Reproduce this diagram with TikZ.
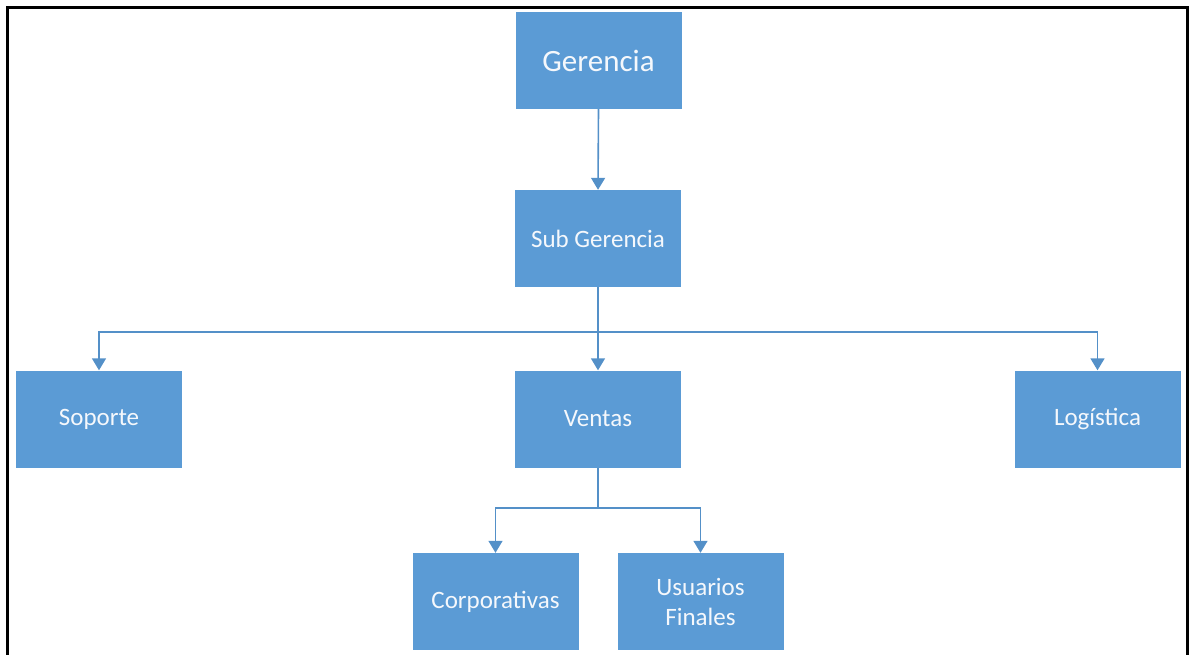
\documentclass[tikz,border=0pt]{standalone}
\usepackage{fontspec}
\setmainfont{Carlito}
\usetikzlibrary{arrows.meta}
\definecolor{boxblue}{RGB}{91,155,213}
\definecolor{lineblue}{RGB}{84,144,200}
\definecolor{txtwhite}{RGB}{245,248,252}
\tikzset{
  orgbox/.style={fill=boxblue, draw=none, minimum width=166pt, minimum height=97pt, inner sep=0pt, text=txtwhite, align=center, font=\fontsize{25}{30}\selectfont},
  link/.style={draw=lineblue, line width=1.6pt, -{Triangle[width=14pt,length=12pt]}},
  plain/.style={draw=lineblue, line width=1.6pt}
}
\begin{document}
\begin{tikzpicture}[x=1pt,y=-1pt]
\useasboundingbox (0,0) rectangle (1190,655);
\draw[line width=3pt, black] (7.5,660) -- (7.5,7.5) -- (1187,7.5) -- (1187,660);
\node[orgbox, font=\fontsize{31}{36}\selectfont] (ger) at (598.5,60.5) {Gerencia};
\node[orgbox] (sub) at (598,238.5) {Sub Gerencia};
\node[orgbox] (sop) at (99,419) {Soporte};
\node[orgbox] (ven) at (598,419) {Ventas};
\node[orgbox] (log) at (1097.5,419) {Logística};
\node[orgbox] (cor) at (495.5,601.5) {Corporativas};
\node[orgbox] (usu) at (700.5,601.5) {Usuarios\\Finales};
\coordinate (j1) at (598,332);
\coordinate (j2) at (598,508);
\draw[link] (ger.south) -- (sub.north);
\draw[plain] (sub.south) -- (j1);
\draw[link] (j1) -| (sop.north);
\draw[link] (j1) -| (log.north);
\draw[link] (j1) -- (ven.north);
\draw[plain] (ven.south) -- (j2);
\draw[link] (j2) -| (cor.north);
\draw[link] (j2) -| (usu.north);
\end{tikzpicture}
\end{document}
